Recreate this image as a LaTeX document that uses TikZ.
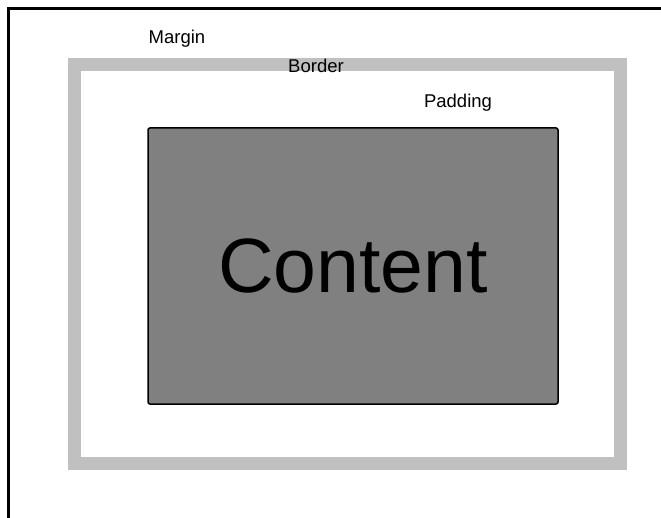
\documentclass[tikz,border=0pt]{standalone}
\usepackage{fontspec}
\setmainfont{Liberation Sans}
\usepackage{tikz}
\definecolor{boxgray}{RGB}{192,192,192}
\definecolor{contentgray}{RGB}{128,128,128}

\begin{document}
\begin{tikzpicture}[x=1pt, y=-1pt, every node/.style={font=\fontsize{18.5}{20}\selectfont, inner sep=0pt}]
        \useasboundingbox (0,0) rectangle (661,518);
        \draw[line width=3.5pt] (8.5,520) -- (8.5,8.5) -- (665,8.5);
        \draw[boxgray, line width=13pt] (74.5,65) rectangle (620,463.5);
        \node[draw, line width=1.5pt, fill=contentgray, rounded corners=2pt, minimum width=410pt, minimum height=276pt, font=\fontsize{77}{80}\selectfont] (content) at (353,266) {Content};
        \node[anchor=base] (margin) at (177,44) {Margin};
        \node[anchor=base] (border) at (316,72.5) {Border};
        \node[anchor=base] (padding) at (458,108) {Padding};
    \end{tikzpicture}
\end{document}
